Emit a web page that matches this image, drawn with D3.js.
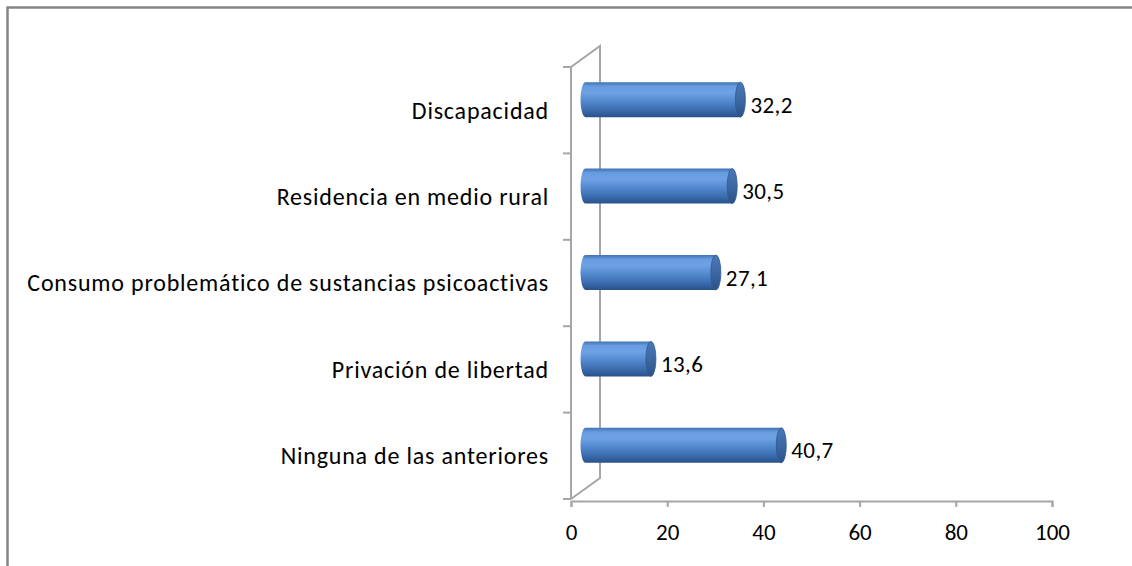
<!DOCTYPE html>
<html>
<head>
<meta charset="utf-8">
<script src="https://cdn.jsdelivr.net/npm/d3@7"></script>
<style>
  html, body { margin: 0; padding: 0; background: #fff; }
  svg { display: block; }
  text { font-family: Carlito, Calibri, Lato, sans-serif; fill: #000; }
</style>
</head>
<body>
<div id="chart"></div>
<script>
// data, top to bottom as drawn
const categories = [
    'Discapacidad',
    'Residencia en medio rural',
    'Consumo problemático de sustancias psicoactivas',
    'Privación de libertad',
    'Ninguna de las anteriores'
];
const values = [32.2, 30.5, 27.1, 13.6, 40.7];
const xTicks = [0, 20, 40, 60, 80, 100];

const W = 1132, H = 566;
const catFont = 24;
const numFont = 23;

// 3d wall depth (back wall shift) and bar depth (half of it)
const depth = { dx: 29, dy: -21 };
const barShift = { dx: depth.dx / 2, dy: depth.dy / 2 };
const barH = 35;
const capRx = 5;

const es = d3.formatLocale({ decimal: ',', thousands: '.', grouping: [3], currency: ['', ' €'] });
const fmt = es.format('.1f');

const svg = d3.select('#chart')
    .append('svg')
    .attr('width', W)
    .attr('height', H);

// chart border (runs off the right and bottom of the picture)
svg.append('rect')
    .attr('x', 7.5).attr('y', 7.5)
    .attr('width', W + 20).attr('height', H + 20)
    .attr('fill', 'none')
    .attr('stroke', '#868686')
    .attr('stroke-width', 2.5);

// scales
const x = d3.scaleLinear().domain([0, 100]).range([571, 1052]);
const y = d3.scaleBand().domain(categories).range([67, 499]);

// gradients for the cylinders
const defs = svg.append('defs');
const body = defs.append('linearGradient')
    .attr('id', 'cylBody')
    .attr('x1', 0).attr('y1', 0).attr('x2', 0).attr('y2', 1);
[
    [0, '#4072b5'], [0.12, '#679cde'], [0.3, '#6ea2e4'],
    [0.55, '#5288cd'], [0.8, '#3b6bad'], [1, '#28518a']
].forEach(([o, c]) => body.append('stop').attr('offset', o).attr('stop-color', c));

const cap = defs.append('linearGradient')
    .attr('id', 'cylCap')
    .attr('x1', 0).attr('y1', 0).attr('x2', 0).attr('y2', 1);
[[0, '#4a79b8'], [0.5, '#3d68a2'], [1, '#2c5286']]
    .forEach(([o, c]) => cap.append('stop').attr('offset', o).attr('stop-color', c));

// walls
const wallColor = '#a6a6a6';
const x0 = x(0);
const yTop = y.range()[0], yBot = y.range()[1];
const walls = svg.append('g')
    .attr('fill', 'none')
    .attr('stroke', wallColor)
    .attr('stroke-width', 2);

walls.append('path')
    .attr('d', `M${x0},${yTop}L${x0 + depth.dx},${yTop + depth.dy}L${x0 + depth.dx},${yBot + depth.dy}L${x0},${yBot}`);
walls.append('line')
    .attr('x1', x0).attr('x2', x0)
    .attr('y1', yTop).attr('y2', yBot);

// category ticks on the front edge
const catTicks = d3.range(categories.length + 1).map(i => yTop + i * y.step());
walls.selectAll('.ctick')
    .data(catTicks)
    .enter()
    .append('line')
    .attr('x1', x0 - 8).attr('x2', x0)
    .attr('y1', d => d).attr('y2', d => d);

// category labels
svg.append('g')
    .selectAll('text')
    .data(categories)
    .enter()
    .append('text')
    .attr('x', x0 - 22)
    .attr('y', d => y(d) + y.bandwidth() / 2)
    .attr('dy', '0.35em')
    .attr('text-anchor', 'end')
    .style('font-size', catFont + 'px')
    .style('letter-spacing', '0.8px')
    .text(d => d);

// x axis
const xAxis = svg.append('g')
    .attr('transform', `translate(0,${yBot + 2})`)
    .call(d3.axisBottom(x)
        .tickValues(xTicks)
        .tickSize(6)
        .tickPadding(17)
        .tickFormat(d3.format('d')));
xAxis.select('.domain').attr('stroke', wallColor).attr('stroke-width', 2);
xAxis.selectAll('.tick line').attr('stroke', wallColor).attr('stroke-width', 2);
xAxis.selectAll('.tick text')
    .style('font-size', numFont + 'px')
    .style('font-family', 'Carlito, Calibri, Lato, sans-serif')
    .attr('fill', '#000');

// cylinders
const bars = svg.append('g')
    .selectAll('g')
    .data(categories.map((c, i) => ({ cat: c, val: values[i] })))
    .enter()
    .append('g');

const cy = d => y(d.cat) + y.bandwidth() / 2 + barShift.dy;
const bx0 = x(0) + barShift.dx;
const bx1 = d => x(d.val) + barShift.dx;

bars.append('path')
    .attr('fill', 'url(#cylBody)')
    .attr('d', d => {
        const c = cy(d), t = c - barH / 2, b = c + barH / 2;
        return `M${bx1(d)},${t}L${bx0},${t}` +
            `A${capRx},${barH / 2} 0 0 0 ${bx0},${b}` +
            `L${bx1(d)},${b}Z`;
    });

bars.append('ellipse')
    .attr('cx', d => bx1(d))
    .attr('cy', d => cy(d))
    .attr('rx', capRx)
    .attr('ry', barH / 2)
    .attr('fill', 'url(#cylCap)')
    .attr('stroke', '#2f5a8f')
    .attr('stroke-width', 0.8);

// value labels
bars.append('text')
    .attr('x', d => bx1(d) + capRx + 5)
    .attr('y', d => cy(d) + 5)
    .attr('dy', '0.35em')
    .style('font-size', numFont + 'px')
    .style('letter-spacing', '0.4px')
    .text(d => fmt(d.val));
</script>
</body>
</html>
